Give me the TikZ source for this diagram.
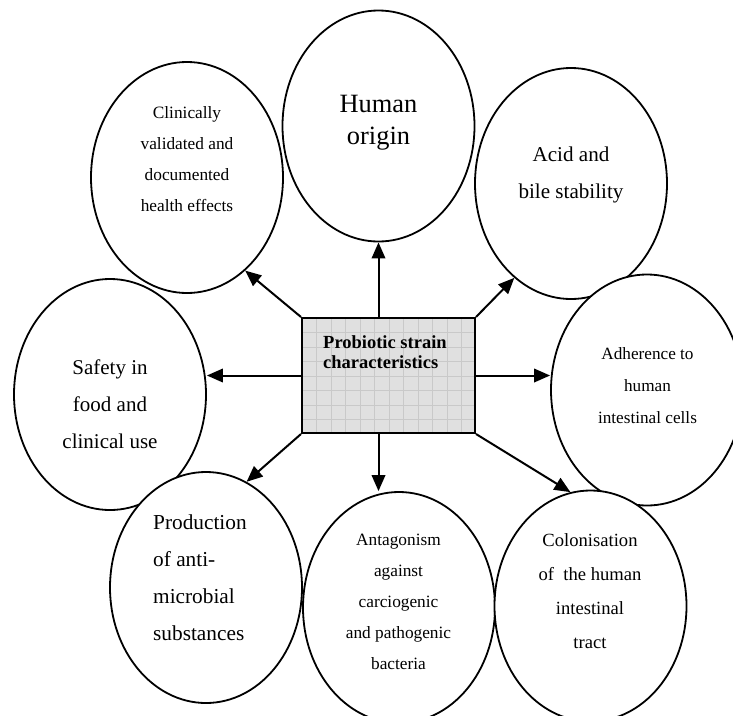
\documentclass[tikz,border=0pt]{standalone}
\usepackage{fontspec}
\setmainfont{Liberation Serif}
\usetikzlibrary{arrows.meta,calc,shapes.geometric}
\begin{document}
\begin{tikzpicture}[x=1pt,y=-1pt,
  bub/.style={ellipse, draw, line width=1.8pt, fill=white, minimum width=192pt, minimum height=231pt, inner sep=0pt},
  arr/.style={line width=2pt, -{Triangle[length=16pt,width=13.5pt]}},
  txt/.style={inner sep=0pt, align=center},
  gridline/.style={draw=gray!42, line width=0.5pt},
  centrebox/.style={draw, line width=2pt, fill=gray!24, minimum width=173pt, minimum height=115pt, inner sep=0pt}
]
\useasboundingbox (0,0) rectangle (733,715);
\clip (0,0) rectangle (733,715);

% ellipses
\node[bub] (clin)  at (187,177.5) {};
\node[bub] (safe)  at (110,394.5) {};
\node[bub] (prod)  at (206,587.5) {};
\node[bub] (human) at (378.5,126) {};
\node[bub] (acid)  at (571,183.5) {};
\node[bub] (adh)   at (647,390) {};
\node[bub] (anta)  at (399,607.5) {};
\node[bub] (colo)  at (590.5,606) {};

% centre box with grid
\node[centrebox, path picture={
   \foreach \i in {1,...,11}{
     \draw[gridline] ($(path picture bounding box.north west)+(14.5*\i,0)$) -- ($(path picture bounding box.south west)+(14.5*\i,0)$);
   }
   \foreach \j in {1,...,7}{
     \draw[gridline] ($(path picture bounding box.north west)+(0,14.5*\j)$) -- ($(path picture bounding box.north east)+(0,14.5*\j)$);
   }
}] (box) at (388.5,375.5) {};

% texts
\node[txt, font=\fontsize{26.4}{32}\selectfont] (humanT) at (378.5,123) {Human\\origin};
\node[txt, font=\fontsize{17.3}{31}\selectfont] (clinT) at (187,159) {Clinically\\validated and\\documented\\health effects};
\node[txt, font=\fontsize{21.1}{37}\selectfont] (acidT) at (571,175) {Acid and\\bile stability};
\node[txt, font=\fontsize{17.2}{32}\selectfont] (adhT) at (647.5,385.5) {Adherence to\\human\\intestinal cells};
\node[txt, font=\fontsize{21}{37}\selectfont] (safeT) at (110,404) {Safety in\\food and\\clinical use};
\node[txt, align=left, anchor=west, font=\fontsize{21.3}{37}\selectfont] (prodT) at (153,578) {Production\\of anti-\\microbial\\substances};
\node[txt, font=\fontsize{17.3}{31}\selectfont] (antaT) at (398.5,602) {Antagonism\\against\\carciogenic\\and pathogenic\\bacteria};
\node[txt, font=\fontsize{18.6}{34}\selectfont] (coloT) at (590,591.5) {Colonisation\\of~ the human\\intestinal\\tract};
\node[txt, align=left, anchor=west, font=\bfseries\fontsize{18.5}{20}\selectfont] (boxT) at (323,352) {Probiotic strain\\characteristics};

% arrows
\draw[arr] (box.north -| human.south) -- (human.south);
\draw[arr] (box.north west) -- (clin.-58);
\draw[arr] (box.north east) -- (acid.-121);
\draw[arr] (box.west) -- (box.west -| safe.east);
\draw[arr] (box.east) -- (box.east -| adh.west);
\draw[arr] (box.south west) -- (prod.69);
\draw[arr] (box.south -| human.south) -- (anta.north -| human.south);
\draw[arr] (box.south east) -- (colo.100);
\end{tikzpicture}
\end{document}
